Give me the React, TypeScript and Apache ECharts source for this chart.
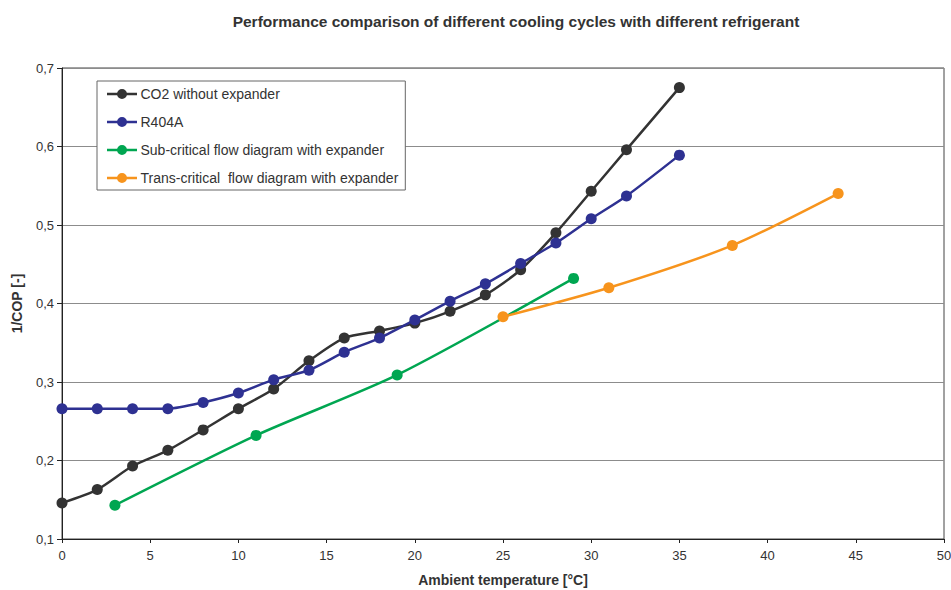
import React, { useEffect, useRef } from "react";
import * as echarts from "echarts";

const titleText = "Performance comparison of different cooling cycles with different refrigerant";
const xAxisName = "Ambient temperature [°C]";
const yAxisName = "1/COP [-]";

const co2Temps = [0, 2, 4, 6, 8, 10, 12, 14, 16, 18, 20, 22, 24, 26, 28, 30, 32, 35];
const co2Values = [0.146, 0.163, 0.193, 0.213, 0.239, 0.266, 0.291, 0.327, 0.356, 0.365, 0.375, 0.39, 0.411, 0.443, 0.49, 0.543, 0.596, 0.675];

const r404Temps = [0, 2, 4, 6, 8, 10, 12, 14, 16, 18, 20, 22, 24, 26, 28, 30, 32, 35];
const r404Values = [0.266, 0.266, 0.266, 0.266, 0.274, 0.286, 0.303, 0.315, 0.338, 0.356, 0.379, 0.403, 0.425, 0.451, 0.477, 0.508, 0.537, 0.589];

const subTemps = [3, 11, 19, 29];
const subValues = [0.143, 0.232, 0.309, 0.432];

const transTemps = [25, 31, 38, 44];
const transValues = [0.383, 0.42, 0.474, 0.54];

const seriesNames = [
  "CO2 without expander",
  "R404A",
  "Sub-critical flow diagram with expander",
  "Trans-critical  flow diagram with expander",
];
const seriesColors = ["#333333", "#2e3192", "#00a651", "#f7941d"];

const zip = (xs: number[], ys: number[]) => xs.map((x, i) => [x, ys[i]]);

const legendIcon =
  "path://M0,5.7 L10.2,5.7 L10.2,8.3 L0,8.3 Z M19.8,5.7 L30,5.7 L30,8.3 L19.8,8.3 Z M10,7 A5,5 0 1,1 20,7 A5,5 0 1,1 10,7 Z";

export default function App() {
  const ref = useRef<HTMLDivElement>(null);
  useEffect(() => {
    if (!ref.current) return;
    const chart = echarts.init(ref.current, undefined, { renderer: "svg" });
    const datasets = [
      zip(co2Temps, co2Values),
      zip(r404Temps, r404Values),
      zip(subTemps, subValues),
      zip(transTemps, transValues),
    ];
    const font = "Liberation Sans, Arial, sans-serif";
    chart.setOption({
      animation: false,
      textStyle: { fontFamily: font },
      title: {
        text: titleText,
        left: 511,
        textAlign: "center",
        top: 8,
        textStyle: { fontSize: 15.5, fontWeight: "bold", color: "#333", fontFamily: font },
      },
      legend: {
        orient: "vertical",
        left: 97,
        top: 81,
        padding: [6, 7, 5, 10],
        itemGap: 14,
        itemWidth: 31,
        itemHeight: 10,
        backgroundColor: "#fff",
        borderColor: "#666",
        borderWidth: 1,
        borderRadius: 0,
        textStyle: { fontSize: 14, color: "#333", fontFamily: font, padding: [0, 0, 0, -2] },
        data: seriesNames.map((n) => ({ name: n, icon: legendIcon })),
      },
      grid: {
        left: 62,
        right: 7,
        top: 68,
        bottom: 51,
        outerBoundsMode: "none",
        containLabel: false,
        show: true,
        borderColor: "#444",
        borderWidth: 1,
        backgroundColor: "#fff",
      },
      xAxis: {
        type: "value",
        min: 0,
        max: 50,
        interval: 5,
        name: xAxisName,
        nameLocation: "middle",
        nameGap: 34,
        nameTextStyle: { fontSize: 14, fontWeight: "bold", color: "#333" },
        axisLine: { show: true, lineStyle: { color: "#222", width: 1 } },
        axisTick: { show: true, length: 4, lineStyle: { color: "#222" } },
        axisLabel: { fontSize: 13, color: "#333", margin: 10 },
        splitLine: { show: false },
      },
      yAxis: {
        type: "value",
        min: 0.1,
        max: 0.7,
        interval: 0.1,
        name: yAxisName,
        nameLocation: "middle",
        nameGap: 38,
        nameTextStyle: { fontSize: 14, fontWeight: "bold", color: "#333" },
        axisLine: { show: true, lineStyle: { color: "#222", width: 1 } },
        axisTick: { show: true, length: 5, lineStyle: { color: "#222" } },
        axisLabel: {
          fontSize: 13,
          color: "#333",
          margin: 8,
          formatter: (v: number) => v.toFixed(1).replace(".", ","),
        },
        splitLine: { show: true, lineStyle: { color: "#8c8c8c", width: 1 } },
      },
      series: seriesNames.map((name, i) => ({
        name,
        type: "line",
        data: datasets[i],
        smooth: 0.25,
        symbol: "circle",
        symbolSize: 11,
        showSymbol: true,
        lineStyle: { color: seriesColors[i], width: 2.5 },
        itemStyle: { color: seriesColors[i] },
        z: 2 + i,
      })),
    });
    return () => chart.dispose();
  }, []);
  return <div ref={ref} style={{ width: 951, height: 590, position: "absolute", left: 0, top: 0 }} />;
}
